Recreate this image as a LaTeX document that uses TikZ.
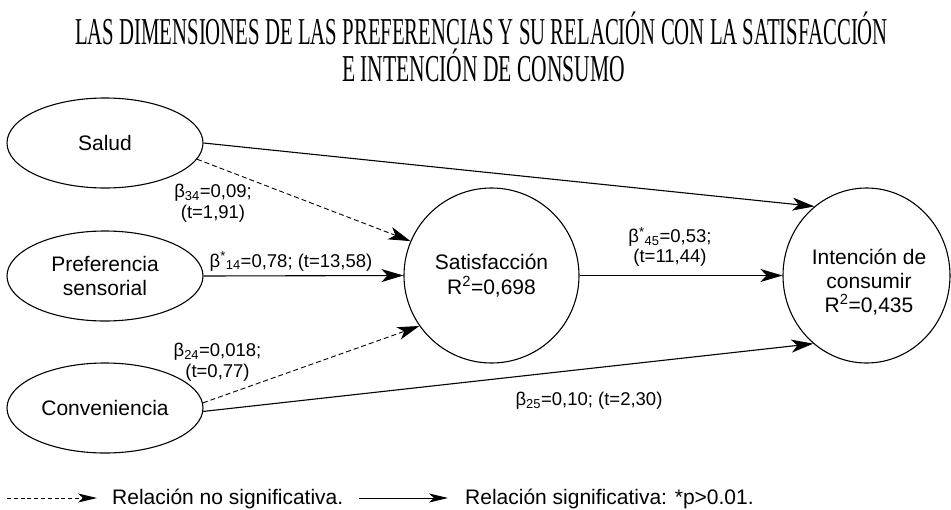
\documentclass[tikz,border=0pt]{standalone}
\usepackage{graphicx}
\usepackage{fontspec}
\setmainfont{Liberation Sans}
\newfontfamily\titlefont{Liberation Serif}
\usetikzlibrary{shapes.geometric,arrows.meta}
\begin{document}
\begin{tikzpicture}[x=1pt,y=-1pt,
  box/.style={draw,ellipse,line width=1.1pt,minimum width=196pt,minimum height=90pt,inner sep=0pt,align=center,font=\fontsize{21}{24.5}\selectfont},
  circ/.style={draw,ellipse,line width=1.1pt,minimum height=175pt,inner sep=0pt,align=center,font=\fontsize{21}{24.5}\selectfont},
  txt/.style={inner sep=0pt,align=center,font=\fontsize{21}{24}\selectfont},
  sig/.style={line width=1.1pt,-{Stealth[length=22pt,width=13pt,inset=6pt]}},
  nsig/.style={sig,line width=0.9pt,dash pattern=on 5pt off 3pt},
  lab/.style={inner sep=0pt,align=center,font=\fontsize{18.5}{20.5}\selectfont},
  legtip/.style={line width=1pt,-{Stealth[length=19pt,width=9pt,inset=5pt]}},
  legtxt/.style={inner sep=0pt,anchor=base west,font=\fontsize{21}{24}\selectfont},
  ttl/.style={inner sep=0pt,anchor=base}]
\useasboundingbox (0,0) rectangle (951,509);

% title
\node[ttl] (t1) at (481.5,44) {\resizebox{813pt}{\height}{\titlefont\fontsize{38}{38}\selectfont LAS DIMENSIONES DE LAS PREFERENCIAS Y SU RELACIÓN CON LA SATISFACCIÓN}};
\node[ttl] (t2) at (483.5,81) {\resizebox{283pt}{\height}{\titlefont\fontsize{38}{38}\selectfont E INTENCIÓN DE CONSUMO}};

% nodes
\node[box] (salud) at (105,143) {Salud};
\node[box] (pref) at (105,276) {Preferencia\\sensorial};
\node[box] (conv) at (105,408) {Conveniencia};
\node[circ,minimum width=175pt] (sat) at (491.5,275.5) {Satisfacción\\R\textsuperscript{2}=0,698};
\node[circ,minimum width=167pt] (int) at (866.5,275.5) {};
\node[txt] (inttxt) at (869,282) {Intención de\\consumir\\R\textsuperscript{2}=0,435};

% connectors
\draw[sig] (salud.east) -- (int.127);
\draw[nsig] (salud.-10.5) -- (sat.157);
\draw[sig] (pref.east) -- (sat.west);
\draw[nsig] (conv.3) -- (sat.215);
\draw[sig] (conv.-2) -- (int.232);
\draw[sig] (sat.east) -- (int.west);

% labels
\node[lab] (l34) at (213,203) {β\textsubscript{34}=0,09;\\(t=1,91)};
\node[lab,anchor=base] (l14) at (291,267) {β\textsuperscript{*}\textsubscript{14}=0,78; (t=13,58)};
\node[lab] (l24) at (217.5,362) {β\textsubscript{24}=0,018;\\(t=0,77)};
\node[lab] (l45) at (670,247) {β\textsuperscript{*}\textsubscript{45}=0,53;\\(t=11,44)};
\node[lab,anchor=base] (l25) at (589,405) {β\textsubscript{25}=0,10; (t=2,30)};

% legend
\coordinate (a1) at (7,498);
\coordinate (a2) at (97,498);
\node[legtxt] (n1) at (112,504) {Relación no significativa.};
\coordinate (b1) at (359,498);
\coordinate (b2) at (448,498);
\node[legtxt] (n2) at (465,504) {Relación significativa: *p>0.01.};
\draw[legtip,dash pattern=on 4pt off 2.8pt] (a1) -- (a2);
\draw[legtip] (b1) -- (b2);
\end{tikzpicture}
\end{document}
